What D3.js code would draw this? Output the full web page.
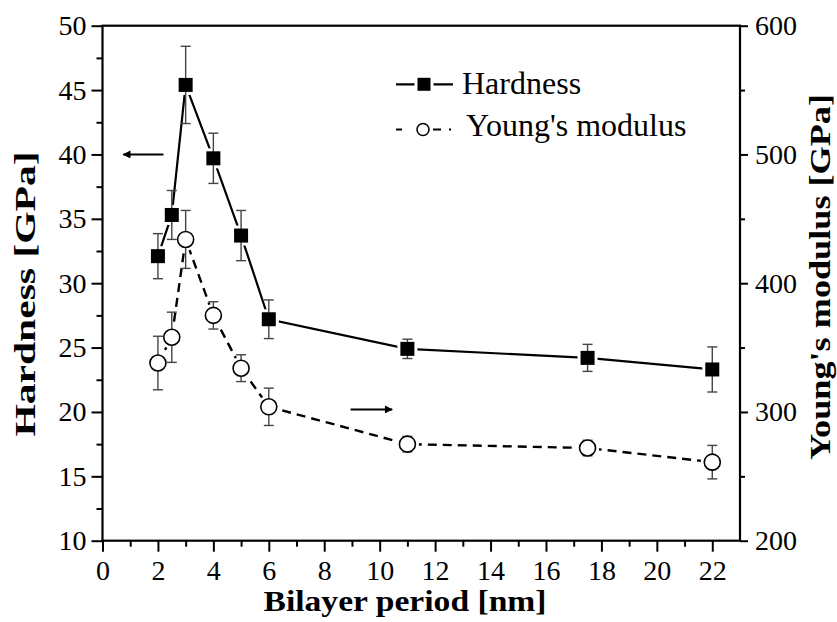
<!DOCTYPE html>
<html>
<head>
<meta charset="utf-8">
<script src="https://cdn.jsdelivr.net/npm/d3@7/dist/d3.min.js"></script>
<style>
  html, body { margin: 0; padding: 0; background: #fff; }
  svg { display: block; }
  text { font-family: "Liberation Serif", "Times New Roman", serif; fill: #000; }
</style>
</head>
<body>
<svg id="chart" width="837" height="622"></svg>
<script>
// Bilayer period (nm)
const period = [2, 2.5, 3, 4, 5, 6, 11, 17.5, 22];
// Hardness (GPa) with error
const hardness = [32.1, 35.3, 45.4, 39.7, 33.7, 27.2, 24.9, 24.2, 23.3];
const hardnessErr = [1.75, 1.9, 3.0, 1.95, 1.95, 1.5, 0.75, 1.05, 1.75];
// Young's modulus (GPa) with error
const modulus = [338, 358, 434, 375, 334, 304, 275, 272, 261];
const modulusErr = [20.8, 19.5, 22.5, 10.6, 10.4, 14.5, 6, 6, 13];

const xTicks = [0, 2, 4, 6, 8, 10, 12, 14, 16, 18, 20, 22];
const hTicks = [10, 15, 20, 25, 30, 35, 40, 45, 50];
const mTicks = [200, 300, 400, 500, 600];

const svg = d3.select("#chart");
const L = 102.5, R = 740, T = 25.7, B = 540.7;

const x = d3.scaleLinear().domain([0, 23]).range([L, R]);
const yH = d3.scaleLinear().domain([10, 50]).range([B, T]);
const yM = d3.scaleLinear().domain([200, 600]).range([B, T]);

const tickFont = "28px";

// ---- axes ----
function styleAxis(g) {
  g.select(".domain").remove();
  g.selectAll(".tick line").attr("stroke", "#000").attr("stroke-width", 2);
  g.selectAll(".tick text").style("font-size", tickFont).attr("fill", "#000");
}

// minor ticks
svg.append("g").attr("transform", `translate(0,${B})`)
  .call(d3.axisBottom(x).tickValues(d3.range(1, 23, 2)).tickSize(6).tickFormat(""))
  .call(styleAxis);
svg.append("g").attr("transform", `translate(${L},0)`)
  .call(d3.axisLeft(yH).tickValues(d3.range(12.5, 50, 5)).tickSize(6).tickFormat(""))
  .call(styleAxis);
svg.append("g").attr("transform", `translate(${R},0)`)
  .call(d3.axisRight(yM).tickValues(d3.range(250, 600, 100)).tickSize(5).tickFormat(""))
  .call(styleAxis);

// major ticks
svg.append("g").attr("transform", `translate(0,${B})`)
  .call(d3.axisBottom(x).tickValues(xTicks).tickSize(11).tickPadding(8).tickFormat(d3.format("d")))
  .call(styleAxis);
svg.append("g").attr("transform", `translate(${L},0)`)
  .call(d3.axisLeft(yH).tickValues(hTicks).tickSize(11).tickPadding(5).tickFormat(d3.format("d")))
  .call(styleAxis);
svg.append("g").attr("transform", `translate(${R},0)`)
  .call(d3.axisRight(yM).tickValues(mTicks).tickSize(8).tickPadding(7).tickFormat(d3.format("d")))
  .call(styleAxis);

// frame
svg.append("rect")
  .attr("x", L).attr("y", T).attr("width", R - L).attr("height", B - T)
  .attr("fill", "none").attr("stroke", "#000").attr("stroke-width", 2.2);

// ---- axis titles ----
svg.append("text")
  .attr("x", 405).attr("y", 611)
  .attr("text-anchor", "middle")
  .attr("textLength", 283).attr("lengthAdjust", "spacingAndGlyphs")
  .style("font-size", "30px").style("font-weight", "bold")
  .text("Bilayer period [nm]");

svg.append("text")
  .attr("transform", "translate(35,294) rotate(-90)")
  .attr("text-anchor", "middle")
  .attr("textLength", 285).attr("lengthAdjust", "spacingAndGlyphs")
  .style("font-size", "30px").style("font-weight", "bold")
  .text("Hardness [GPa]");

svg.append("text")
  .attr("transform", "translate(830,277) rotate(-90)")
  .attr("text-anchor", "middle")
  .attr("textLength", 366).attr("lengthAdjust", "spacingAndGlyphs")
  .style("font-size", "30px").style("font-weight", "bold")
  .text("Young's modulus [GPa]");

// ---- series ----
const hData = period.map((p, i) => ({ p, v: hardness[i], e: hardnessErr[i] }));
const mData = period.map((p, i) => ({ p, v: modulus[i], e: modulusErr[i] }));

const sq = 14, cr = 8;

// connecting lines
svg.append("path").datum(mData)
  .attr("fill", "none").attr("stroke", "#000").attr("stroke-width", 2.4)
  .attr("stroke-dasharray", "9,6")
  .attr("d", d3.line().x(d => x(d.p)).y(d => yM(d.v)));
svg.append("path").datum(hData)
  .attr("fill", "none").attr("stroke", "#000").attr("stroke-width", 2.2)
  .attr("d", d3.line().x(d => x(d.p)).y(d => yH(d.v)));

// white gaps around symbols
svg.append("g").selectAll("rect").data(hData).join("rect")
  .attr("x", d => x(d.p) - sq / 2 - 3).attr("y", d => yH(d.v) - sq / 2 - 3)
  .attr("width", sq + 6).attr("height", sq + 6).attr("fill", "#fff");
svg.append("g").selectAll("circle").data(mData).join("circle")
  .attr("cx", d => x(d.p)).attr("cy", d => yM(d.v)).attr("r", cr + 3.5).attr("fill", "#fff");

// error bars
function errorBars(data, y) {
  const g = svg.append("g").attr("stroke", "#444").attr("stroke-width", 1.4).attr("fill", "none");
  data.forEach(d => {
    const cx = x(d.p), y1 = y(d.v + d.e), y2 = y(d.v - d.e);
    g.append("line").attr("x1", cx).attr("x2", cx).attr("y1", y1).attr("y2", y2);
    g.append("line").attr("x1", cx - 5).attr("x2", cx + 5).attr("y1", y1).attr("y2", y1);
    g.append("line").attr("x1", cx - 5).attr("x2", cx + 5).attr("y1", y2).attr("y2", y2);
  });
}
errorBars(hData, yH);
errorBars(mData, yM);

// symbols
svg.append("g").selectAll("rect").data(hData).join("rect")
  .attr("x", d => x(d.p) - sq / 2).attr("y", d => yH(d.v) - sq / 2)
  .attr("width", sq).attr("height", sq).attr("fill", "#000");
svg.append("g").selectAll("circle").data(mData).join("circle")
  .attr("cx", d => x(d.p)).attr("cy", d => yM(d.v)).attr("r", cr)
  .attr("fill", "#fff").attr("stroke", "#000").attr("stroke-width", 1.6);

// ---- arrows pointing to each series' axis ----
svg.append("defs").append("marker")
  .attr("id", "head").attr("viewBox", "0 0 10 10")
  .attr("refX", 9).attr("refY", 5)
  .attr("markerWidth", 12).attr("markerHeight", 8)
  .attr("markerUnits", "userSpaceOnUse")
  .attr("orient", "auto")
  .append("path").attr("d", "M0,0 L10,5 L0,10 Z").attr("fill", "#000");

svg.append("line")
  .attr("x1", x(2.2)).attr("x2", x(0.75)).attr("y1", yH(40)).attr("y2", yH(40))
  .attr("stroke", "#000").attr("stroke-width", 2).attr("marker-end", "url(#head)");
svg.append("line")
  .attr("x1", x(8.95)).attr("x2", x(10.45)).attr("y1", yM(302)).attr("y2", yM(302))
  .attr("stroke", "#000").attr("stroke-width", 2).attr("marker-end", "url(#head)");

// ---- legend ----
const lg = svg.append("g");
const lx1 = 396, lx2 = 453, lmx = 424;
const row1 = 84.3, row2 = 129.5;

lg.append("line").attr("x1", lx1).attr("x2", lx2).attr("y1", row1).attr("y2", row1)
  .attr("stroke", "#000").attr("stroke-width", 2.2);
lg.append("rect").attr("x", lmx - 9.5).attr("y", row1 - 9.5).attr("width", 19).attr("height", 19).attr("fill", "#fff");
lg.append("rect").attr("x", lmx - 6.5).attr("y", row1 - 6.5).attr("width", 13).attr("height", 13).attr("fill", "#000");
lg.append("text").attr("x", 462).attr("y", 94).style("font-size", "32px").text("Hardness");

lg.append("line").attr("x1", lx1).attr("x2", lx2).attr("y1", row2).attr("y2", row2)
  .attr("stroke", "#000").attr("stroke-width", 2.2).attr("stroke-dasharray", "6,31,8,8,2,100");
lg.append("circle").attr("cx", lmx - 1).attr("cy", row2).attr("r", 6)
  .attr("fill", "#fff").attr("stroke", "#000").attr("stroke-width", 1.5);
lg.append("text").attr("x", 466).attr("y", 136).style("font-size", "32px").text("Young's modulus");
</script>
</body>
</html>
